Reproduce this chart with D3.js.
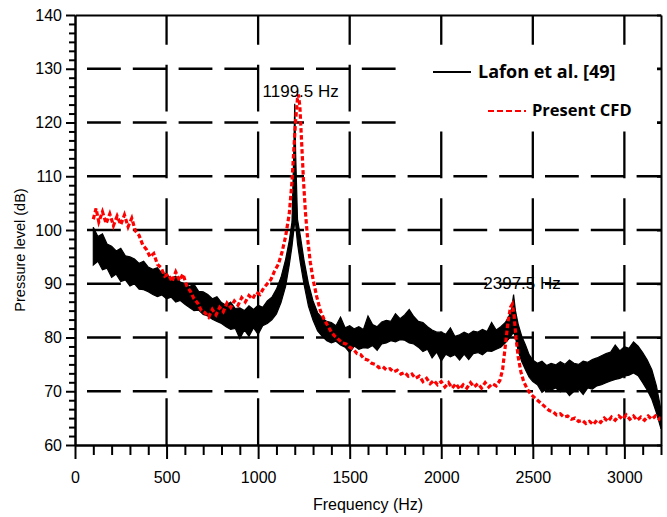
<!DOCTYPE html>
<html>
<head>
<meta charset="utf-8">
<script src="https://cdn.jsdelivr.net/npm/d3@7"></script>
<style>
  body { margin: 0; background: #fff; }
  text { font-family: "Liberation Sans", Arial, sans-serif; }
</style>
</head>
<body>
<div id="chart"></div>
<script>
// axis ticks
const xTicks = [0, 500, 1000, 1500, 2000, 2500, 3000]
const yTicks = [60, 70, 80, 90, 100, 110, 120, 130, 140]
const gridY = [70, 80, 90, 100, 110, 120, 130]
const gridX = [500, 1000, 1500, 2000, 2500, 3000]

// Lafon et al. [49] : [freq, upper edge, lower edge] of the noisy band
const lafon = [
  [100, 100.5, 93.5], [125, 98.8, 94.2], [150, 99.3, 92.6], [175, 97.4, 92.9], [200, 97.0, 91.2],
  [225, 96.1, 91.8], [250, 96.6, 90.4], [275, 95.2, 90.7], [300, 95.0, 89.6], [325, 94.6, 90.0],
  [350, 93.8, 89.0], [375, 94.2, 88.9], [400, 93.1, 88.5], [425, 92.7, 88.0], [450, 93.0, 87.6],
  [475, 91.9, 87.9], [500, 91.8, 87.2], [525, 91.0, 87.5], [550, 91.4, 86.6], [575, 90.3, 86.9],
  [600, 90.0, 86.2], [625, 89.5, 85.6], [650, 89.9, 85.0], [675, 88.6, 85.1], [700, 88.5, 84.3],
  [725, 88.0, 84.0], [750, 87.2, 83.4], [775, 87.6, 83.0], [800, 86.5, 82.6], [825, 86.0, 82.0],
  [850, 86.6, 81.5], [875, 85.4, 81.7], [900, 85.5, 79.8], [925, 85.0, 81.4], [950, 85.9, 80.2],
  [975, 85.2, 81.8], [1000, 86.0, 80.6], [1025, 85.6, 82.2], [1050, 86.8, 82.6], [1075, 87.5, 83.3],
  [1100, 89.0, 84.4], [1125, 91.2, 86.5], [1150, 94.5, 89.5], [1170, 98.0, 93.5], [1185, 101.5, 97.0],
  [1195, 115.0, 100.0], [1200, 123.5, 101.5], [1205, 114.0, 101.0], [1215, 102.0, 97.5], [1230, 99.0, 94.0],
  [1250, 94.5, 90.0], [1275, 90.0, 85.8], [1300, 86.8, 83.2], [1325, 84.6, 81.2], [1350, 83.6, 80.2],
  [1375, 83.0, 79.4], [1400, 82.8, 79.0], [1425, 82.2, 79.3], [1450, 83.8, 78.6], [1475, 81.8, 78.2],
  [1500, 82.2, 77.2], [1525, 81.6, 78.4], [1550, 82.0, 77.8], [1575, 81.5, 78.1], [1600, 84.0, 78.0],
  [1625, 82.4, 78.5], [1650, 82.0, 77.6], [1675, 82.9, 78.8], [1700, 83.2, 79.0], [1725, 83.0, 79.4],
  [1750, 84.4, 79.2], [1775, 83.5, 79.6], [1800, 84.2, 79.5], [1825, 85.2, 79.0], [1850, 83.9, 78.8],
  [1875, 83.0, 78.2], [1900, 82.8, 77.4], [1925, 82.0, 77.8], [1950, 81.4, 76.2], [1975, 81.0, 77.3],
  [2000, 81.0, 75.6], [2025, 80.6, 76.9], [2050, 81.8, 76.4], [2075, 80.2, 76.8], [2100, 80.5, 75.8],
  [2125, 81.0, 76.9], [2150, 80.6, 75.9], [2175, 81.2, 77.0], [2200, 81.0, 77.2], [2225, 81.5, 76.8],
  [2250, 81.1, 77.5], [2275, 82.8, 77.4], [2300, 81.4, 77.8], [2325, 82.0, 78.2], [2350, 82.8, 79.0],
  [2370, 84.0, 79.8], [2385, 85.5, 80.5], [2395, 88.0, 81.0], [2405, 85.0, 80.0], [2420, 82.5, 77.5],
  [2440, 80.2, 75.5], [2460, 78.6, 74.0], [2480, 76.8, 72.6], [2500, 75.8, 71.8], [2525, 75.2, 71.2],
  [2550, 75.6, 69.8], [2575, 74.8, 70.4], [2600, 75.2, 70.2], [2625, 74.9, 70.6], [2650, 75.5, 69.9],
  [2675, 75.0, 70.3], [2700, 75.8, 69.2], [2725, 75.2, 70.0], [2750, 75.0, 70.4], [2775, 75.6, 69.4],
  [2800, 75.4, 70.6], [2825, 75.9, 70.4], [2850, 76.2, 71.0], [2875, 76.6, 71.2], [2900, 77.0, 71.6],
  [2925, 77.3, 71.9], [2950, 78.6, 72.2], [2975, 77.5, 72.4], [3000, 78.3, 72.8], [3025, 78.0, 73.0],
  [3050, 79.2, 73.4], [3075, 78.4, 72.9], [3100, 77.2, 71.6], [3125, 75.8, 70.2], [3150, 74.0, 68.5],
  [3175, 71.0, 66.0], [3200, 66.5, 63.0]
]

// Present CFD : [freq, level]
const cfd = [
  [100, 102.0], [115, 104.0], [130, 101.5], [150, 103.4], [170, 101.2], [190, 103.0], [210, 100.8],
  [230, 102.6], [250, 101.0], [270, 102.8], [290, 100.6], [310, 102.2], [330, 99.8], [350, 99.0],
  [370, 97.2], [390, 96.4], [410, 95.0], [430, 95.6], [450, 93.6], [470, 93.0], [490, 91.4],
  [510, 91.8], [530, 90.4], [550, 92.2], [570, 90.6], [590, 91.8], [610, 89.6], [630, 88.6],
  [650, 87.2], [670, 86.4], [690, 85.0], [710, 84.6], [730, 83.8], [750, 85.2], [770, 84.2],
  [790, 85.6], [810, 84.8], [830, 86.4], [850, 85.6], [870, 86.8], [890, 86.0], [910, 87.4],
  [930, 86.6], [950, 87.8], [970, 87.2], [990, 88.4], [1010, 88.0], [1030, 89.2], [1050, 90.0],
  [1070, 90.8], [1090, 92.4], [1110, 93.6], [1130, 95.8], [1150, 98.8], [1170, 103.0], [1185, 109.0],
  [1195, 115.0], [1205, 120.5], [1215, 124.5], [1220, 125.2], [1228, 123.0], [1238, 116.0], [1248, 109.0],
  [1258, 103.5], [1270, 98.5], [1285, 94.0], [1300, 90.8], [1320, 87.6], [1340, 85.0], [1360, 83.4],
  [1380, 82.2], [1400, 81.0], [1420, 80.2], [1440, 79.6], [1460, 79.0], [1480, 78.8], [1500, 78.2],
  [1520, 77.8], [1540, 77.0], [1560, 76.8], [1580, 76.0], [1600, 75.8], [1620, 75.2], [1640, 75.0],
  [1660, 74.4], [1680, 74.6], [1700, 74.0], [1720, 74.2], [1740, 73.6], [1760, 73.9], [1780, 73.2],
  [1800, 73.5], [1820, 72.8], [1840, 73.2], [1860, 72.4], [1880, 72.8], [1900, 71.8], [1920, 72.4],
  [1940, 71.4], [1960, 72.0], [1980, 71.2], [2000, 71.8], [2020, 70.8], [2040, 71.6], [2060, 70.6],
  [2080, 71.4], [2100, 70.4], [2120, 71.2], [2140, 70.6], [2160, 71.6], [2180, 70.8], [2200, 71.4],
  [2220, 70.6], [2240, 71.6], [2260, 70.8], [2280, 71.4], [2300, 71.0], [2320, 72.0], [2335, 74.0],
  [2350, 78.5], [2365, 83.0], [2378, 85.6], [2388, 86.2], [2398, 84.0], [2408, 80.0], [2420, 76.4],
  [2435, 73.6], [2450, 71.8], [2470, 70.4], [2490, 69.4], [2510, 68.8], [2530, 68.2], [2550, 67.6],
  [2570, 67.0], [2590, 66.4], [2610, 66.2], [2630, 65.6], [2650, 65.8], [2670, 65.2], [2690, 65.4],
  [2710, 64.8], [2730, 65.0], [2750, 64.4], [2770, 64.6], [2790, 64.0], [2810, 64.4], [2830, 63.8],
  [2850, 64.6], [2870, 64.2], [2890, 65.0], [2910, 64.4], [2930, 65.2], [2950, 64.6], [2970, 65.4],
  [2990, 64.8], [3010, 65.6], [3030, 64.8], [3050, 65.4], [3070, 64.6], [3090, 65.2], [3110, 64.6],
  [3130, 65.4], [3150, 64.8], [3170, 65.4], [3190, 64.8], [3200, 65.2]
]

const peaks = [
  { label: "1199.5 Hz", f: 1199.5, db: 124.8, dx: 6 },
  { label: "2397.5 Hz", f: 2397.5, db: 89.0, dx: 8 }
]

const margin = { top: 15, right: 6, bottom: 72, left: 75 }
const W = 667, H = 517
const width = W - margin.left - margin.right
const height = H - margin.top - margin.bottom

const svg = d3.select('#chart')
    .append('svg')
    .attr('width', W)
    .attr('height', H)
const g = svg.append('g')
    .attr('transform', `translate(${margin.left}, ${margin.top})`)

const x = d3.scaleLinear().domain([0, 3200]).range([0, width])
const y = d3.scaleLinear().domain([60, 140]).range([height, 0])

// grid lines (long dashes)
g.append('g').selectAll('line')
    .data(gridY)
    .join('line')
    .attr('x1', 0).attr('x2', width)
    .attr('y1', d => y(d)).attr('y2', d => y(d))
    .attr('stroke', '#000')
    .attr('stroke-width', 2.3)
    .attr('stroke-dasharray', '33.8,12')
    .attr('stroke-dashoffset', 33.8)

g.append('g').selectAll('line')
    .data(gridX)
    .join('line')
    .attr('x1', d => x(d)).attr('x2', d => x(d))
    .attr('y1', height).attr('y2', 0)
    .attr('stroke', '#000')
    .attr('stroke-width', 2.3)
    .attr('stroke-dasharray', '46.7,20')

// legend box hides the grid behind it
svg.append('rect')
    .attr('x', 400).attr('y', 50)
    .attr('width', 257).attr('height', 79)
    .attr('fill', '#fff')

// Lafon band
g.append('path')
    .datum(lafon)
    .attr('fill', '#000')
    .attr('stroke', '#000')
    .attr('stroke-width', 1.2)
    .attr('stroke-linejoin', 'miter')
    .attr('d', d3.area()
        .x(d => x(d[0]))
        .y0(d => y(d[2]))
        .y1(d => y(d[1])))

// Present CFD
g.append('path')
    .datum(cfd)
    .attr('fill', 'none')
    .attr('stroke', '#ff0000')
    .attr('stroke-width', 3.2)
    .attr('stroke-dasharray', '4.5,2.5')
    .attr('d', d3.line()
        .x(d => x(d[0]))
        .y(d => y(d[1])))

// axes
const styleAxis = sel => {
    sel.selectAll('path').attr('stroke-width', 2)
    sel.selectAll('line').attr('stroke-width', 2)
    sel.selectAll('text').attr('font-size', 16).attr('fill', '#000')
        .style('font-family', '"Liberation Sans", Arial, sans-serif')
}

const xMinor = d3.range(0, 3201, 100).filter(v => v % 500 !== 0)
g.append('g')
    .attr('transform', `translate(0,${height})`)
    .call(d3.axisBottom(x).tickValues(xMinor).tickSize(10).tickSizeOuter(0).tickFormat(''))
    .call(styleAxis)
g.append('g')
    .attr('transform', `translate(0,${height})`)
    .call(d3.axisBottom(x).tickValues(xTicks).tickSize(14).tickPadding(13).tickSizeOuter(0).tickFormat(d3.format('d')))
    .call(styleAxis)

const yMinor = []
yTicks.slice(0, -1).forEach(v => { for (let k = 1; k < 6; k++) yMinor.push(v + k * 10 / 6) })
g.append('g')
    .call(d3.axisLeft(y).tickValues(yMinor).tickSize(6).tickSizeOuter(0).tickFormat(''))
    .call(styleAxis)
g.append('g')
    .call(d3.axisLeft(y).tickValues(yTicks).tickSize(9).tickPadding(4).tickSizeOuter(0).tickFormat(d3.format('d')))
    .call(styleAxis)

// right + top frame
g.append('g')
    .attr('transform', `translate(${width},0)`)
    .call(d3.axisLeft(y).tickValues(yTicks).tickSize(4).tickSizeOuter(0).tickFormat(''))
    .call(styleAxis)
g.append('g')
    .call(d3.axisTop(x).tickValues([]).tickSizeOuter(0))
    .call(styleAxis)

// peak labels
g.selectAll('.peak')
    .data(peaks)
    .join('text')
    .attr('class', 'peak')
    .attr('x', d => x(d.f) + d.dx)
    .attr('y', d => y(d.db))
    .attr('text-anchor', 'middle')
    .attr('font-size', 17)
    .text(d => d.label)

// axis titles
svg.append('text')
    .attr('x', margin.left + width / 2)
    .attr('y', 510)
    .attr('text-anchor', 'middle')
    .attr('font-size', 16)
    .text('Frequency (Hz)')
svg.append('text')
    .attr('transform', 'translate(25,250) rotate(-90)')
    .attr('text-anchor', 'middle')
    .attr('font-size', 14.5)
    .text('Pressure level (dB)')

// legend
const legend = svg.append('g')
legend.append('line')
    .attr('x1', 433).attr('x2', 471).attr('y1', 72).attr('y2', 72)
    .attr('stroke', '#000').attr('stroke-width', 2)
legend.append('text')
    .attr('x', 478).attr('y', 78)
    .attr('font-size', 18)
    .attr('font-weight', 'bold')
    .style('font-family', '"Open Sans", sans-serif')
    .text('Lafon et al. [49]')
legend.append('line')
    .attr('x1', 488).attr('x2', 526).attr('y1', 111).attr('y2', 111)
    .attr('stroke', '#ff0000').attr('stroke-width', 2.2)
    .attr('stroke-dasharray', '6,3')
legend.append('text')
    .attr('x', 532).attr('y', 116)
    .attr('font-size', 16.5)
    .attr('font-weight', 'bold')
    .style('font-family', '"Open Sans", sans-serif')
    .text('Present CFD')
</script>
</body>
</html>
